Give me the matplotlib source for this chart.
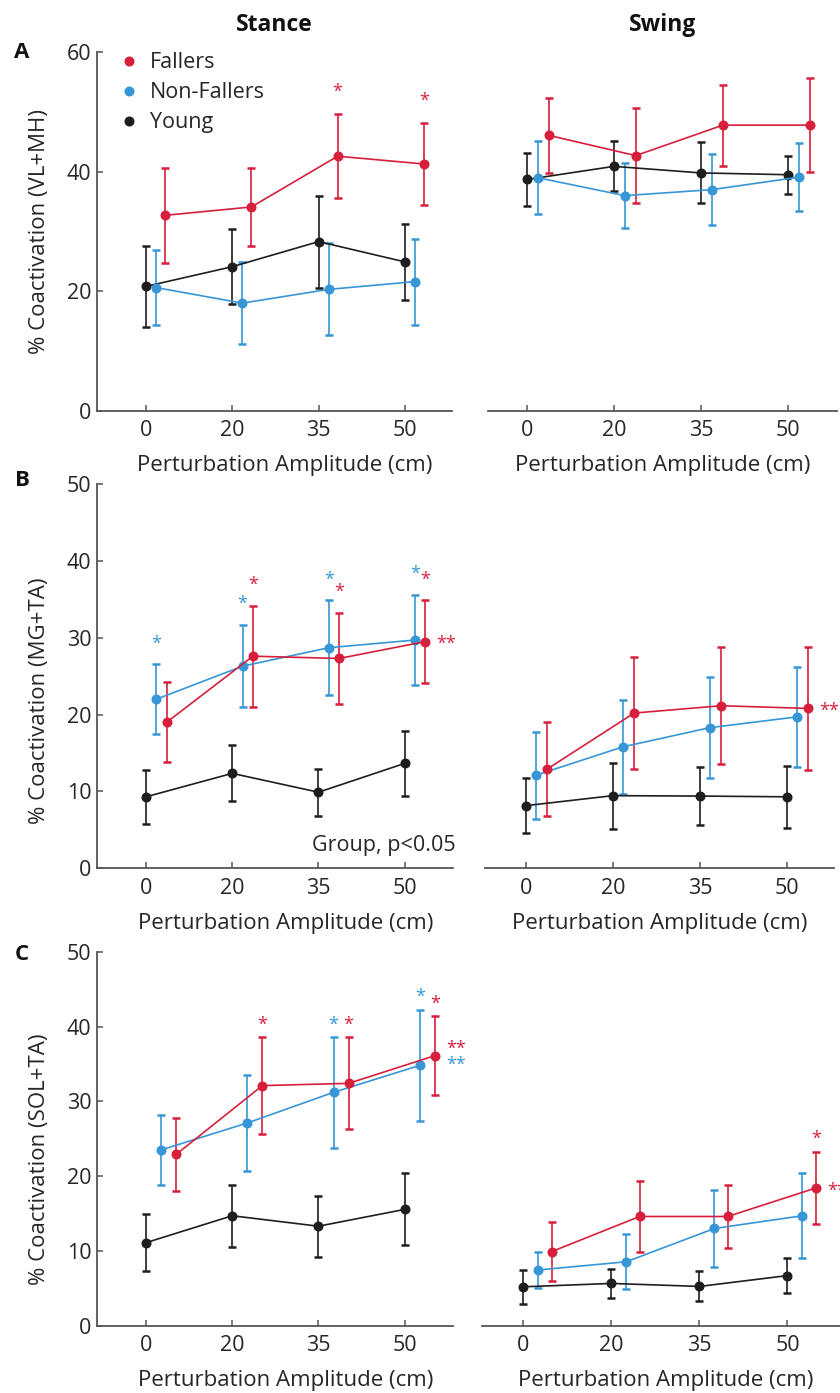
import matplotlib
matplotlib.use("Agg")
import matplotlib.pyplot as plt
from matplotlib.lines import Line2D
import numpy as np

plt.rcParams['font.family'] = ['Open Sans', 'DejaVu Sans']

# ---------------- data ----------------
amplitudes = ["0", "20", "35", "50"]
groups = ["Fallers", "Non-Fallers", "Young"]

# Row A: % Coactivation (VL+MH)
A_stance_young = [20.8, 24.1, 28.3, 24.9]
A_stance_young_sd = [6.8, 6.3, 7.7, 6.4]
A_stance_nonf = [20.6, 18.0, 20.3, 21.6]
A_stance_nonf_sd = [6.3, 6.9, 7.7, 7.2]
A_stance_fall = [32.7, 34.1, 42.6, 41.3]
A_stance_fall_sd = [8.0, 6.5, 7.0, 6.9]

A_swing_young = [38.7, 40.9, 39.8, 39.5]
A_swing_young_sd = [4.4, 4.2, 5.1, 3.2]
A_swing_nonf = [39.0, 36.0, 37.0, 39.1]
A_swing_nonf_sd = [6.1, 5.5, 5.9, 5.7]
A_swing_fall = [46.1, 42.7, 47.8, 47.8]
A_swing_fall_sd = [6.3, 7.9, 6.8, 7.9]

# Row B: % Coactivation (MG+TA)
B_stance_young = [9.3, 12.35, 9.9, 13.65]
B_stance_young_sd = [3.5, 3.65, 3.05, 4.25]
B_stance_nonf = [22.0, 26.3, 28.7, 29.7]
B_stance_nonf_sd = [4.55, 5.35, 6.15, 5.85]
B_stance_fall = [19.0, 27.6, 27.3, 29.5]
B_stance_fall_sd = [5.2, 6.55, 5.9, 5.35]

B_swing_young = [8.15, 9.45, 9.4, 9.3]
B_swing_young_sd = [3.6, 4.3, 3.8, 4.05]
B_swing_nonf = [12.1, 15.8, 18.3, 19.7]
B_swing_nonf_sd = [5.65, 6.1, 6.6, 6.5]
B_swing_fall = [12.9, 20.2, 21.15, 20.8]
B_swing_fall_sd = [6.1, 7.3, 7.6, 7.95]

# Row C: % Coactivation (SOL+TA)
C_stance_young = [11.1, 14.7, 13.3, 15.55]
C_stance_young_sd = [3.8, 4.15, 4.1, 4.8]
C_stance_nonf = [23.5, 27.1, 31.2, 34.8]
C_stance_nonf_sd = [4.7, 6.45, 7.4, 7.45]
C_stance_fall = [22.9, 32.1, 32.4, 36.1]
C_stance_fall_sd = [4.85, 6.45, 6.15, 5.3]

C_swing_young = [5.2, 5.65, 5.25, 6.7]
C_swing_young_sd = [2.3, 1.95, 2.0, 2.35]
C_swing_nonf = [7.45, 8.55, 13.0, 14.7]
C_swing_nonf_sd = [2.4, 3.7, 5.1, 5.65]
C_swing_fall = [9.9, 14.6, 14.6, 18.4]
C_swing_fall_sd = [3.95, 4.7, 4.25, 4.85]

# significance marks: (group, amplitude index, text)
A_stance_stars = [("Fallers", 2, "*"), ("Fallers", 3, "*")]
A_swing_stars = []
B_stance_stars = [("Non-Fallers", 0, "*"), ("Non-Fallers", 1, "*"), ("Fallers", 1, "*"),
                  ("Non-Fallers", 2, "*"), ("Fallers", 2, "*"),
                  ("Non-Fallers", 3, "*"), ("Fallers", 3, "*")]
B_swing_stars = []
C_stance_stars = [("Fallers", 1, "*"), ("Non-Fallers", 2, "*"), ("Fallers", 2, "*"),
                  ("Non-Fallers", 3, "*"), ("Fallers", 3, "*")]
C_swing_stars = [("Fallers", 3, "*")]
# trend marks to the right of the last point
B_stance_trend = [("Fallers", "**")]
B_swing_trend = [("Fallers", "**")]
C_stance_trend = [("Fallers", "**"), ("Non-Fallers", "**")]
C_swing_trend = [("Fallers", "**")]

# ---------------- style ----------------
colors = {"Fallers": "#D71F3C", "Non-Fallers": "#3796D6", "Young": "#1E1E1E"}
spine_col = "#555555"
text_col = "#262626"
FS = 16

W, H = 840, 1393
fig = plt.figure(figsize=(W / 100, H / 100), dpi=100)


def px_axes(x0, x1, ytop, ybot):
    return fig.add_axes([x0 / W, 1 - ybot / H, (x1 - x0) / W, (ybot - ytop) / H])


rows = [
    dict(letter="A", ylabel="% Coactivation (VL+MH)", ymax=60, yticks=[0, 20, 40, 60],
         ytop=52.3, ybot=410.6, ylab_y=0.50, letter_y=52,
         left=dict(x=(97, 452), xlim=(0.432, 4.545), off=(0.116, 0.22),
                   data=(A_stance_fall, A_stance_fall_sd, A_stance_nonf, A_stance_nonf_sd,
                         A_stance_young, A_stance_young_sd),
                   stars=A_stance_stars, trend=[]),
         right=dict(x=(488, 837), xlim=(0.555, 4.56), off=(0.125, 0.25),
                    data=(A_swing_fall, A_swing_fall_sd, A_swing_nonf, A_swing_nonf_sd,
                          A_swing_young, A_swing_young_sd),
                    stars=A_swing_stars, trend=[]),
         star_dy=16),
    dict(letter="B", ylabel="% Coactivation (MG+TA)", ymax=50, yticks=[0, 10, 20, 30, 40, 50],
         ytop=484.0, ybot=868.3, ylab_y=0.435, letter_y=480,
         left=dict(x=(97, 453), xlim=(0.432, 4.56), off=(0.12, 0.24),
                   data=(B_stance_fall, B_stance_fall_sd, B_stance_nonf, B_stance_nonf_sd,
                         B_stance_young, B_stance_young_sd),
                   stars=B_stance_stars, trend=B_stance_trend),
         right=dict(x=(485, 834), xlim=(0.532, 4.54), off=(0.115, 0.245),
                    data=(B_swing_fall, B_swing_fall_sd, B_swing_nonf, B_swing_nonf_sd,
                          B_swing_young, B_swing_young_sd),
                    stars=B_swing_stars, trend=B_swing_trend),
         star_dy=15),
    dict(letter="C", ylabel="% Coactivation (SOL+TA)", ymax=50, yticks=[0, 10, 20, 30, 40, 50],
         ytop=951.7, ybot=1325.7, ylab_y=0.445, letter_y=955,
         left=dict(x=(97, 453), xlim=(0.432, 4.56), off=(0.175, 0.35),
                   data=(C_stance_fall, C_stance_fall_sd, C_stance_nonf, C_stance_nonf_sd,
                         C_stance_young, C_stance_young_sd),
                   stars=C_stance_stars, trend=C_stance_trend),
         right=dict(x=(482, 850), xlim=(0.53, 4.71), off=(0.17, 0.32),
                    data=(C_swing_fall, C_swing_fall_sd, C_swing_nonf, C_swing_nonf_sd,
                          C_swing_young, C_swing_young_sd),
                    stars=C_swing_stars, trend=C_swing_trend),
         star_dy=9),
]

xpos = np.arange(1, len(amplitudes) + 1)

for ri, row in enumerate(rows):
    for side in ("left", "right"):
        p = row[side]
        ax = px_axes(p["x"][0], p["x"][1], row["ytop"], row["ybot"])
        ax.set_xlim(*p["xlim"])
        ax.set_ylim(0, row["ymax"])
        fm, fs, nm, ns, ym, ys = p["data"]
        series = {"Young": (ym, ys, 0.0), "Non-Fallers": (nm, ns, p["off"][0]),
                  "Fallers": (fm, fs, p["off"][1])}
        for g in ("Young", "Non-Fallers", "Fallers"):
            m, s, o = series[g]
            ax.errorbar(xpos + o, m, yerr=s, color=colors[g], marker="o", ms=6.2,
                        lw=1.2, elinewidth=1.2, capsize=3.2, capthick=1.8, zorder=3)
        for g, i, t in p["stars"]:
            m, s, o = series[g]
            ax.annotate(t, xy=(xpos[i] + o, m[i] + s[i]), xytext=(0, row["star_dy"]),
                        textcoords="offset points", ha="center", va="center",
                        color=colors[g], fontsize=13)
        ntr = len(p["trend"])
        for k, (g, t) in enumerate(p["trend"]):
            m, s, o = series["Fallers"]
            dy = -2 if ntr == 1 else (5 if k == 0 else -6.5)
            ax.annotate(t, xy=(xpos[-1] + o, m[-1]), xytext=(8, dy),
                        textcoords="offset points", ha="left", va="center",
                        color=colors[g], fontsize=13)
        for sp in ("top", "right"):
            ax.spines[sp].set_visible(False)
        ax.spines["bottom"].set_color(spine_col)
        ax.spines["bottom"].set_linewidth(1.3)
        ax.set_xticks(xpos)
        ax.set_xticklabels(amplitudes)
        ax.tick_params(axis="x", direction="in", length=4, width=1.1, color=spine_col,
                       labelsize=FS - 0.5, labelcolor=text_col, pad=7)
        ax.set_xlabel("Perturbation Amplitude (cm)", fontsize=FS, color=text_col)
        if side == "left":
            ax.spines["left"].set_color(spine_col)
            ax.spines["left"].set_linewidth(1.3)
            ax.set_yticks(row["yticks"])
            ax.tick_params(axis="y", direction="in", length=4, width=1.1, color=spine_col,
                           labelsize=FS - 0.5, labelcolor=text_col, pad=4)
            ax.set_ylabel(row["ylabel"], fontsize=FS, color=text_col)
            ax.yaxis.set_label_coords(-0.132, row["ylab_y"])
            ax.xaxis.set_label_coords(0.53, -0.125 * 358 / (row["ybot"] - row["ytop"]))
            fig.text(22 / W, 1 - row["letter_y"] / H, row["letter"], fontsize=FS,
                     fontweight="bold", color="#111111", ha="center", va="center")
            if ri == 0:
                handles = [Line2D([], [], ls="none", marker="o", ms=6.2, color=colors[g])
                           for g in groups]
                ax.legend(handles, groups, loc="upper left", bbox_to_anchor=(0.03, 1.03),
                          frameon=False, fontsize=FS - 0.5, handlelength=1.0,
                          handletextpad=0.45, labelspacing=0.42, borderpad=0,
                          labelcolor=text_col)
            if ri == 1:
                ax.text(1.008, 0.06, "Group, p<0.05", transform=ax.transAxes,
                        ha="right", va="center", fontsize=FS - 0.5, color=text_col)
        else:
            ax.spines["left"].set_visible(False)
            ax.set_yticks([])
            ax.xaxis.set_label_coords(0.5, -0.125 * 358 / (row["ybot"] - row["ytop"]))
        if ri == 0:
            ax.set_title("Stance" if side == "left" else "Swing", fontsize=16.5,
                         fontweight="bold", color="#111111", pad=15)

fig.savefig("out.png", dpi=100)
